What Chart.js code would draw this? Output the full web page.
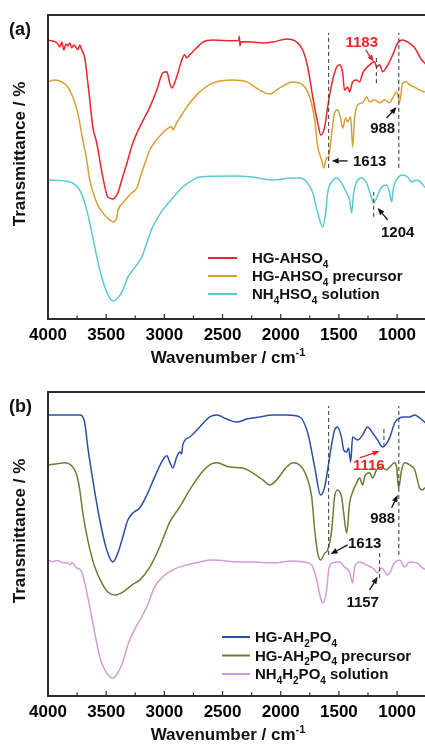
<!DOCTYPE html>
<html>
<head>
<meta charset="utf-8">
<script src="https://cdn.jsdelivr.net/npm/chart.js@4.4.1/dist/chart.umd.min.js"></script>
<style>
  html, body { margin: 0; padding: 0; background: #fff; overflow: hidden; }
  .panel { position: absolute; left: 0; width: 440px; height: 372px; }
  #pa { top: 0; }
  #pb { top: 372px; }
</style>
</head>
<body>
<div class="panel" id="pa"><canvas id="chart-a"></canvas></div>
<div class="panel" id="pb"><canvas id="chart-b"></canvas></div>
<script>
// x tick labels (wavenumber, cm-1)
const xTicks = [4000, 3500, 3000, 2500, 2000, 1500, 1000];

// panel (a) spectra, [wavenumber, transmittance (offset, a.u.)]
const hgAhso4 = [[4000,91.6],[3967,91.5],[3933,91.1],[3916,90.5],[3899,89.5],[3881,91.1],[3864,88.5],[3847,90.5],[3830,89.8],[3813,90.8],[3796,89.2],[3778,90.1],[3761,89.5],[3744,88.5],[3727,90.1],[3710,88.5],[3684,85.9],[3667,80.9],[3641,72.1],[3615,63.2],[3581,57.9],[3555,52.3],[3529,46.7],[3486,40.1],[3443,39.5],[3400,41.5],[3366,45.7],[3314,52.3],[3271,57.9],[3211,63.2],[3125,69.7],[3065,75.3],[3014,80.9],[2979,81.3],[2954,77.6],[2937,76.0],[2894,79.6],[2851,85.2],[2825,86.9],[2808,85.9],[2782,86.9],[2722,89.2],[2670,91.1],[2584,91.8],[2412,91.5],[2362,91.6],[2356,93.0],[2350,89.8],[2343,91.2],[2241,91.1],[2155,90.8],[2069,91.1],[1949,92.1],[1863,91.1],[1811,88.5],[1768,82.9],[1725,73.0],[1682,64.5],[1655,60.5],[1622,63.2],[1597,69.7],[1554,78.6],[1519,82.9],[1494,83.6],[1468,80.9],[1451,75.3],[1425,76.3],[1408,74.7],[1382,78.0],[1348,78.6],[1322,78.0],[1296,80.9],[1236,83.6],[1193,84.6],[1176,82.9],[1150,83.6],[1124,81.3],[1090,82.9],[1038,86.9],[995,90.8],[952,91.8],[909,91.1],[849,89.2],[789,85.2],[763,84.2],[700,81.0]];
const hgAhso4Precursor = [[4000,78.0],[3942,78.6],[3881,78.0],[3830,76.3],[3787,73.0],[3744,67.8],[3701,58.9],[3667,52.3],[3641,45.7],[3581,38.2],[3529,34.9],[3469,32.6],[3443,31.9],[3409,33.2],[3400,35.5],[3357,38.2],[3280,41.5],[3237,43.1],[3200,47.5],[3160,52.0],[3125,55.6],[3014,61.2],[2937,63.2],[2928,62.2],[2894,64.5],[2851,67.1],[2808,69.7],[2696,74.7],[2584,77.6],[2412,78.6],[2292,78.0],[2181,75.3],[2095,74.0],[2009,76.0],[1897,78.0],[1811,77.0],[1751,73.0],[1708,65.5],[1682,56.6],[1648,52.3],[1631,49.7],[1605,53.0],[1588,53.3],[1562,61.2],[1537,67.8],[1511,68.8],[1485,66.1],[1468,62.8],[1442,66.1],[1425,64.8],[1399,66.5],[1382,56.6],[1365,66.1],[1339,70.4],[1296,71.1],[1262,73.0],[1236,71.4],[1193,72.1],[1150,71.1],[1107,72.1],[1064,71.1],[1038,72.7],[1004,74.7],[978,71.4],[952,77.6],[918,78.0],[892,77.0],[849,76.3],[806,75.3],[763,74.7],[700,74.0]];
const nh4hso4Solution = [[4000,45.7],[3900,45.6],[3856,45.4],[3787,44.7],[3727,42.4],[3684,38.2],[3641,31.6],[3598,23.7],[3555,16.1],[3512,10.5],[3469,6.9],[3443,5.9],[3400,6.9],[3357,9.5],[3314,13.8],[3271,16.1],[3237,17.8],[3194,20.4],[3151,25.0],[3100,30.3],[3014,35.9],[2928,39.8],[2842,43.4],[2782,45.1],[2696,46.7],[2412,47.0],[2241,46.7],[2069,45.7],[1897,46.4],[1837,46.4],[1777,45.1],[1725,41.5],[1682,34.9],[1639,30.3],[1614,34.9],[1597,41.5],[1562,45.1],[1519,46.4],[1477,44.7],[1434,41.5],[1408,39.2],[1391,34.9],[1373,41.5],[1348,45.1],[1305,46.4],[1262,44.7],[1227,40.8],[1201,38.2],[1176,39.8],[1133,43.4],[1090,44.1],[1064,41.5],[1047,38.5],[1030,43.4],[995,46.4],[952,47.4],[909,46.7],[875,45.1],[832,45.7],[789,44.7],[763,43.4],[700,42.0]];

// panel (b) spectra
const hgAh2po4 = [[4000,92.4],[3850,92.4],[3727,92.4],[3684,89.8],[3658,81.9],[3615,71.1],[3555,57.9],[3495,48.0],[3443,44.1],[3400,47.0],[3357,52.3],[3314,57.9],[3271,60.2],[3211,61.9],[3151,66.1],[3083,72.1],[3014,77.6],[2979,79.0],[2954,77.0],[2928,75.0],[2894,78.6],[2868,80.3],[2851,79.6],[2842,82.6],[2782,85.2],[2696,88.5],[2610,91.8],[2550,92.4],[2464,91.1],[2378,90.1],[2292,91.1],[2181,91.8],[2069,92.4],[1949,92.4],[1837,91.8],[1768,86.5],[1708,75.3],[1657,66.1],[1622,68.8],[1580,78.6],[1537,87.5],[1511,88.5],[1477,84.9],[1459,80.9],[1434,80.3],[1417,81.6],[1399,77.0],[1382,85.2],[1339,84.2],[1296,85.9],[1253,88.5],[1210,86.5],[1167,84.2],[1124,81.9],[1098,82.6],[1064,84.9],[1021,89.8],[978,91.5],[944,91.8],[892,91.8],[849,92.4],[806,91.5],[763,90.1],[700,88.0]];
const hgAh2po4Precursor = [[4000,76.0],[3920,76.4],[3856,76.7],[3787,75.3],[3753,72.7],[3727,67.8],[3701,60.2],[3658,51.3],[3598,42.4],[3538,37.2],[3486,34.2],[3426,33.2],[3357,34.2],[3280,36.5],[3211,38.2],[3125,42.4],[3040,49.0],[2954,57.2],[2868,62.2],[2782,67.8],[2696,72.7],[2610,76.0],[2550,76.7],[2438,75.3],[2327,75.0],[2241,73.4],[2155,71.1],[2095,69.4],[2035,71.1],[1949,75.3],[1897,76.7],[1837,76.0],[1777,72.1],[1734,65.5],[1708,54.6],[1682,47.0],[1657,44.7],[1622,47.0],[1597,48.0],[1562,54.6],[1537,65.5],[1511,67.8],[1477,65.5],[1459,60.2],[1434,53.6],[1408,63.5],[1382,67.1],[1348,70.1],[1322,71.7],[1296,69.4],[1279,72.1],[1236,73.4],[1210,71.7],[1176,74.4],[1133,75.3],[1090,74.4],[1064,75.3],[1021,76.7],[1004,75.3],[987,68.4],[961,74.4],[935,76.7],[892,76.0],[849,74.4],[806,68.4],[780,67.8],[763,68.4],[700,68.0]];
const nh4h2po4Solution = [[4000,44.7],[3960,44.2],[3920,44.6],[3880,43.9],[3838,43.8],[3810,43.2],[3795,43.9],[3753,42.1],[3730,41.8],[3710,40.8],[3684,37.2],[3641,29.3],[3598,20.7],[3555,12.8],[3512,8.6],[3469,6.3],[3443,5.9],[3400,7.6],[3357,11.2],[3314,16.8],[3271,20.7],[3211,25.0],[3151,29.3],[3083,35.9],[3014,39.2],[2928,41.5],[2808,43.1],[2696,44.1],[2584,44.7],[2352,44.1],[2241,44.1],[2069,43.8],[1897,44.4],[1811,44.1],[1734,43.1],[1691,38.2],[1657,32.2],[1639,30.6],[1605,34.9],[1588,41.5],[1554,43.8],[1494,44.1],[1451,42.4],[1408,40.8],[1382,37.2],[1365,42.4],[1322,44.1],[1262,43.1],[1210,42.1],[1167,40.5],[1133,42.1],[1081,39.8],[1021,43.8],[978,44.7],[935,42.4],[892,44.1],[832,43.8],[780,42.1],[763,41.8],[700,41.0]];

const FONT = "'Liberation Sans', Arial, Helvetica, sans-serif";
const RED = '#e8262b';
const AXIS = '#2e2e2e';

// text with _{sub} and ^{sup}
function richParts(str) {
  const parts = [];
  const re = /([_^])\{([^}]*)\}/g;
  let last = 0, m;
  while ((m = re.exec(str))) {
    if (m.index > last) parts.push({ t: str.slice(last, m.index), k: '' });
    parts.push({ t: m[2], k: m[1] });
    last = re.lastIndex;
  }
  if (last < str.length) parts.push({ t: str.slice(last), k: '' });
  return parts;
}

function drawRich(ctx, str, x, y, size, align) {
  const parts = richParts(str);
  const fontFor = (k) => `bold ${k ? Math.round(size * 0.66) : size}px ${FONT}`;
  let w = 0;
  parts.forEach((p) => { ctx.font = fontFor(p.k); p.w = ctx.measureText(p.t).width; w += p.w; });
  let cx = align === 'center' ? x - w / 2 : align === 'right' ? x - w : x;
  ctx.textAlign = 'left';
  ctx.textBaseline = 'alphabetic';
  parts.forEach((p) => {
    ctx.font = fontFor(p.k);
    const dy = p.k === '_' ? size * 0.28 : p.k === '^' ? -size * 0.42 : 0;
    ctx.fillText(p.t, cx, y + dy);
    cx += p.w;
  });
}

function arrow(ctx, x1, y1, x2, y2, color) {
  const a = Math.atan2(y2 - y1, x2 - x1), h = 7, s = 2.8;
  const bx = x2 - h * Math.cos(a), by = y2 - h * Math.sin(a);
  ctx.strokeStyle = color; ctx.fillStyle = color; ctx.lineWidth = 1.3; ctx.setLineDash([]);
  ctx.beginPath(); ctx.moveTo(x1, y1); ctx.lineTo(bx, by); ctx.stroke();
  ctx.beginPath();
  ctx.moveTo(x2, y2);
  ctx.lineTo(bx + s * Math.sin(a), by - s * Math.cos(a));
  ctx.lineTo(bx - s * Math.sin(a), by + s * Math.cos(a));
  ctx.closePath(); ctx.fill();
}

const decorPlugin = {
  id: 'decor',
  afterDatasetsDraw(chart, args, o) {
    const { ctx, chartArea: ca, scales: { x, y } } = chart;
    ctx.save();

    // frame (right side runs off the page)
    ctx.strokeStyle = AXIS; ctx.lineWidth = 2; ctx.setLineDash([]);
    ctx.beginPath();
    ctx.moveTo(chart.width, ca.top); ctx.lineTo(ca.left, ca.top);
    ctx.lineTo(ca.left, ca.bottom); ctx.lineTo(chart.width, ca.bottom);
    ctx.stroke();

    // inward ticks
    ctx.lineWidth = 1.2;
    for (let v = 4000; v >= 700; v -= 250) {
      const px = x.getPixelForValue(v);
      const len = v % 500 === 0 ? 5 : 3.5;
      ctx.beginPath(); ctx.moveTo(px, ca.bottom); ctx.lineTo(px, ca.bottom - len); ctx.stroke();
    }

    // dashed guide lines
    ctx.strokeStyle = '#333'; ctx.lineWidth = 1; ctx.setLineDash([4, 3]);
    o.dashed.forEach((d) => {
      const px = x.getPixelForValue(d.x);
      ctx.beginPath(); ctx.moveTo(px, y.getPixelForValue(d.y1)); ctx.lineTo(px, y.getPixelForValue(d.y2)); ctx.stroke();
    });
    ctx.setLineDash([]);

    o.arrows.forEach((a) => {
      arrow(ctx, x.getPixelForValue(a.from[0]), y.getPixelForValue(a.from[1]),
        x.getPixelForValue(a.to[0]), y.getPixelForValue(a.to[1]), a.color || '#111');
    });

    o.labels.forEach((l) => {
      ctx.fillStyle = l.color || '#111';
      drawRich(ctx, l.text, x.getPixelForValue(l.x), y.getPixelForValue(l.y) + 5.4, 15, 'center');
    });

    // legend
    const lg = o.legend;
    chart.data.datasets.forEach((ds, i) => {
      const ly = lg.y + i * lg.dy;
      ctx.strokeStyle = ds.borderColor; ctx.lineWidth = 2;
      ctx.beginPath(); ctx.moveTo(lg.x1, ly); ctx.lineTo(lg.x2, ly); ctx.stroke();
      ctx.fillStyle = '#111';
      drawRich(ctx, ds.label, lg.tx, ly + 5.4, 15, 'left');
    });

    // panel tag and titles
    ctx.fillStyle = '#111';
    drawRich(ctx, o.tag, 9, ca.top + 19.5, 18, 'left');
    drawRich(ctx, 'Wavenumber / cm^{-1}', 228, ca.bottom + 38 + 6, 17, 'center');
    ctx.save();
    ctx.translate(18.5, (ca.top + ca.bottom) / 2 - 13);
    ctx.rotate(-Math.PI / 2);
    drawRich(ctx, 'Transmittance / %', 0, 6, 17, 'center');
    ctx.restore();

    ctx.restore();
  }
};

function makeChart(id, series, top, axisH, decor) {
  const canvas = document.getElementById(id);
  return new Chart(canvas.getContext('2d'), {
    type: 'line',
    data: {
      datasets: series.map((s) => ({
        label: s.label,
        data: s.data.map(([wn, t]) => ({ x: wn, y: t })),
        borderColor: s.color,
        borderWidth: 1.5,
        pointRadius: 0,
        fill: false,
        cubicInterpolationMode: 'monotone'
      }))
    },
    options: {
      responsive: true,
      maintainAspectRatio: false,
      animation: false,
      devicePixelRatio: 1,
      layout: { padding: { left: 48, top, right: 8, bottom: 0 } },
      plugins: { legend: { display: false }, tooltip: { enabled: false }, decor },
      scales: {
        x: {
          type: 'linear',
          reverse: true,
          min: 700,
          max: 4000,
          afterBuildTicks: (s) => { s.ticks = xTicks.map((v) => ({ value: v })); },
          afterFit: (s) => { s.height = axisH; },
          grid: { display: false, drawTicks: false },
          border: { display: false },
          ticks: {
            autoSkip: false, maxRotation: 0, padding: 6, color: '#000',
            font: { family: FONT, size: 17, weight: 'bold' },
            callback: (v) => String(v)
          }
        },
        y: { display: false, min: 0, max: 100 }
      }
    },
    plugins: [decorPlugin]
  });
}

makeChart('chart-a', [
  { label: 'HG-AHSO_{4}', data: hgAhso4, color: RED },
  { label: 'HG-AHSO_{4} precursor', data: hgAhso4Precursor, color: '#d6a033' },
  { label: 'NH_{4}HSO_{4} solution', data: nh4hso4Solution, color: '#5cc8d4' }
], 15, 53, {
  tag: '(a)',
  dashed: [{ x: 1588, y1: 49.7, y2: 94.1 }, { x: 985, y1: 49.7, y2: 94.1 },
           { x: 1178, y1: 77.6, y2: 85.9 }, { x: 1201, y1: 33.6, y2: 41.8 }],
  labels: [{ text: '1183', x: 1304, y: 91.1, color: RED }, { text: '988', x: 1124, y: 62.8 },
           { text: '1613', x: 1236, y: 52.0 }, { text: '1204', x: 995, y: 28.6 }],
  arrows: [{ from: [1270, 88.5], to: [1201, 84.6], color: RED }, { from: [1090, 66.1], to: [1004, 69.7] },
           { from: [1425, 52.0], to: [1562, 52.0] }, { from: [1081, 32.6], to: [1167, 36.5] }],
  legend: { x1: 208, x2: 237, tx: 252, y: 258, dy: 18 }
});

makeChart('chart-b', [
  { label: 'HG-AH_{2}PO_{4}', data: hgAh2po4, color: '#2b4ea6' },
  { label: 'HG-AH_{2}PO_{4} precursor', data: hgAh2po4Precursor, color: '#6b7d33' },
  { label: 'NH_{4}H_{2}PO_{4} solution', data: nh4h2po4Solution, color: '#d59bd6' }
], 20, 48, {
  tag: '(b)',
  dashed: [{ x: 1588, y1: 46.4, y2: 95.4 }, { x: 985, y1: 46.4, y2: 95.4 },
           { x: 1113, y1: 81.9, y2: 88.2 }, { x: 1150, y1: 38.8, y2: 47.0 }],
  labels: [{ text: '1116', x: 1243, y: 76.0, color: RED }, { text: '988', x: 1124, y: 58.6 },
           { text: '1613', x: 1279, y: 50.3 }, { text: '1157', x: 1296, y: 30.9 }],
  arrows: [{ from: [1322, 78.3], to: [1150, 80.6], color: RED }, { from: [1047, 61.9], to: [995, 66.1] },
           { from: [1425, 49.7], to: [1571, 46.7] }, { from: [1236, 34.9], to: [1167, 39.2] }],
  legend: { x1: 222, x2: 250, tx: 255, y: 265, dy: 18.5 }
});
</script>
</body>
</html>
